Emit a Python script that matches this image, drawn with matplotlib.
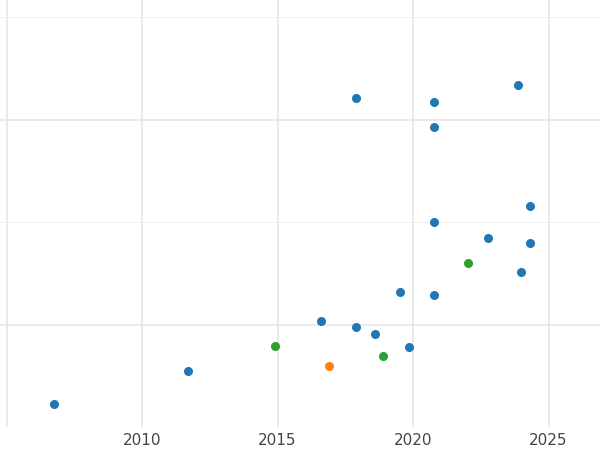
import matplotlib
matplotlib.use("Agg")
import matplotlib.pyplot as plt
from matplotlib.ticker import MultipleLocator, FixedLocator

# year, value per group
blue_x = [2006.75, 2011.70, 2016.60, 2017.90, 2018.60, 2019.85, 2019.52, 2020.77,
          2020.77, 2020.77, 2020.77, 2017.90, 2023.87, 2024.32, 2022.77, 2024.32, 2023.99]
blue_y = [-0.78, -0.45, 0.04, -0.02, -0.09, -0.22, 0.32, 0.29,
          1.00, 1.93, 2.17, 2.21, 2.34, 1.16, 0.85, 0.80, 0.51]
green_x = [2014.91, 2018.89, 2022.03]
green_y = [-0.21, -0.31, 0.60]
orange_x = [2016.90]
orange_y = [-0.40]
year_ticks = [2010, 2015, 2020, 2025]

fig = plt.figure(figsize=(6, 4.5), dpi=100)
ax = fig.add_axes([0, 23 / 450, 1, 427 / 450])

ax.scatter(blue_x, blue_y, s=30, color="#1f77b4", zorder=3)
ax.scatter(green_x, green_y, s=30, color="#2ca02c", zorder=3)
ax.scatter(orange_x, orange_y, s=30, color="#ff7f0e", zorder=3)

ax.set_xlim(2004.76, 2026.9)
ax.set_ylim(-1.0, 3.17)
ax.xaxis.set_major_locator(FixedLocator(year_ticks))
ax.xaxis.set_minor_locator(FixedLocator([2005]))
ax.yaxis.set_major_locator(MultipleLocator(2))
ax.yaxis.set_minor_locator(MultipleLocator(1))
ax.grid(which="major", color="#e6e6e6", linewidth=1.2)
ax.grid(which="minor", axis="x", color="#e6e6e6", linewidth=1.2)
ax.grid(which="minor", axis="y", color="#efefef", linewidth=0.7)
ax.set_axisbelow(True)
for s in ax.spines.values():
    s.set_visible(False)
ax.tick_params(axis="y", which="both", left=False, labelleft=False)
ax.tick_params(axis="x", which="both", length=0, labelsize=11, labelcolor="#444444", pad=4)

fig.savefig("out.png", dpi=100)
